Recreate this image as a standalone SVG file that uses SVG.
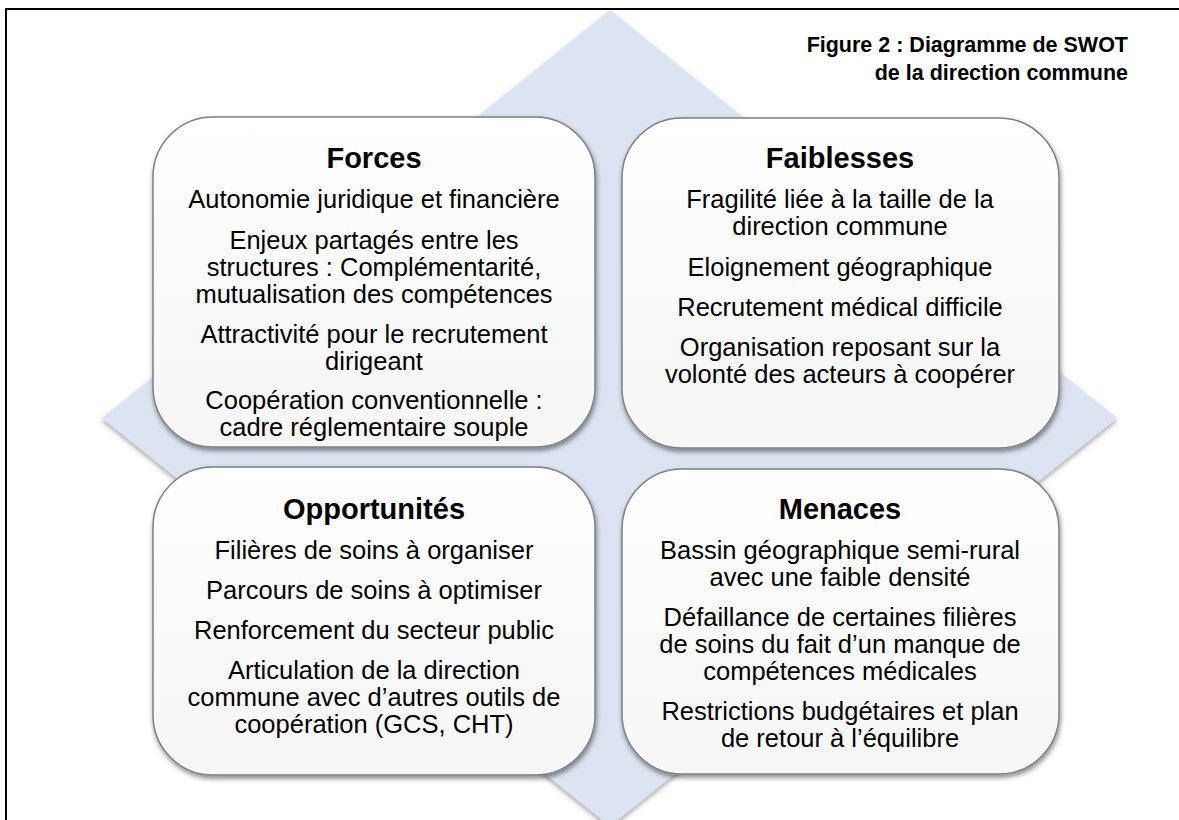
<svg xmlns="http://www.w3.org/2000/svg" width="1179" height="820" viewBox="0 0 1179 820">
<style>
text{font-family:"Liberation Sans",Arial,sans-serif;fill:#000;text-anchor:middle}
.h{font-size:29px;font-weight:bold}
.b{font-size:25.5px}
.t{font-size:21.5px;font-weight:bold;text-anchor:end}
.box{fill:url(#g);stroke:#7f7f7f;stroke-width:1.5;filter:url(#sh)}
</style>
<defs>
<linearGradient id="g" x1="0" y1="0" x2="0" y2="1">
<stop offset="0" stop-color="#ffffff"/>
<stop offset="1" stop-color="#f6f6f6"/>
</linearGradient>
<filter id="sh" x="-10%" y="-10%" width="120%" height="125%">
<feDropShadow dx="1" dy="3" stdDeviation="2.5" flood-color="#000" flood-opacity="0.45"/>
</filter>
<filter id="dsh" x="-5%" y="-5%" width="110%" height="110%">
<feDropShadow dx="0" dy="3" stdDeviation="2.5" flood-color="#000" flood-opacity="0.35"/>
</filter>
</defs>
<rect x="0" y="0" width="1179" height="820" fill="#fff"/>
<g id="diamond">
<polygon points="610,10 1117,418 610,826 102,418" fill="#dbe4f0" filter="url(#dsh)"/>
</g>
<g id="frame" fill="none" stroke="#000" stroke-width="2">
<path d="M6,820 V9 H1179"/>
</g>
<g id="title">
<text class="t" x="1128" y="52">Figure 2 : Diagramme de SWOT</text>
<text class="t" x="1128" y="80">de la direction commune</text>
</g>
<g id="forces">
<rect class="box" x="153" y="117" width="442" height="330" rx="60" ry="60"/>
<text class="h" x="374" y="168">Forces</text>
<text class="b" x="374" y="208">Autonomie juridique et financière</text>
<text class="b" x="374" y="249">Enjeux partagés entre les</text>
<text class="b" x="374" y="276">structures : Complémentarité,</text>
<text class="b" x="374" y="303">mutualisation des compétences</text>
<text class="b" x="374" y="343">Attractivité pour le recrutement</text>
<text class="b" x="374" y="370">dirigeant</text>
<text class="b" x="374" y="409">Coopération conventionnelle :</text>
<text class="b" x="374" y="436">cadre réglementaire souple</text>
</g>
<g id="faiblesses">
<rect class="box" x="622" y="118" width="437" height="330" rx="60" ry="60"/>
<text class="h" x="840" y="168">Faiblesses</text>
<text class="b" x="840" y="208">Fragilité liée à la taille de la</text>
<text class="b" x="840" y="235">direction commune</text>
<text class="b" x="840" y="276">Eloignement géographique</text>
<text class="b" x="840" y="316">Recrutement médical difficile</text>
<text class="b" x="840" y="356">Organisation reposant sur la</text>
<text class="b" x="840" y="383">volonté des acteurs à coopérer</text>
</g>
<g id="opportunites">
<rect class="box" x="153" y="467" width="442" height="308" rx="60" ry="60"/>
<text class="h" x="374" y="519">Opportunités</text>
<text class="b" x="374" y="559">Filières de soins à organiser</text>
<text class="b" x="374" y="599">Parcours de soins à optimiser</text>
<text class="b" x="374" y="639">Renforcement du secteur public</text>
<text class="b" x="374" y="679">Articulation de la direction</text>
<text class="b" x="374" y="706">commune avec d’autres outils de</text>
<text class="b" x="374" y="733">coopération (GCS, CHT)</text>
</g>
<g id="menaces">
<rect class="box" x="622" y="469" width="437" height="305" rx="60" ry="60"/>
<text class="h" x="840" y="519">Menaces</text>
<text class="b" x="840" y="559">Bassin géographique semi-rural</text>
<text class="b" x="840" y="586">avec une faible densité</text>
<text class="b" x="840" y="626">Défaillance de certaines filières</text>
<text class="b" x="840" y="653">de soins du fait d’un manque de</text>
<text class="b" x="840" y="680">compétences médicales</text>
<text class="b" x="840" y="720">Restrictions budgétaires et plan</text>
<text class="b" x="840" y="747">de retour à l’équilibre</text>
</g>
<g id="connectors"/>
</svg>
